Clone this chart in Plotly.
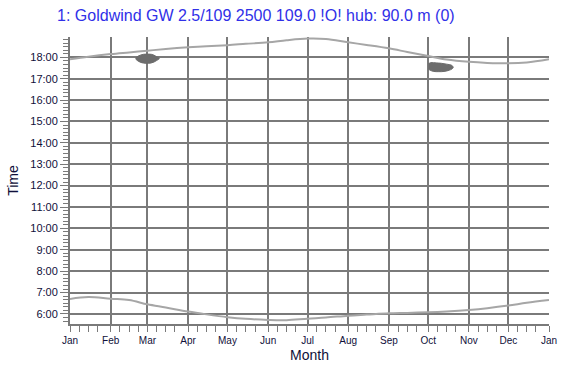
import plotly.graph_objects as go
import pandas as pd

# ---------------- data ----------------
curve_dates = ["2023-01-01", "2023-01-15", "2023-02-01", "2023-02-15", "2023-03-01", "2023-03-15",
               "2023-04-01", "2023-04-15", "2023-05-01", "2023-05-15", "2023-06-01", "2023-06-15",
               "2023-07-01", "2023-07-15", "2023-08-01", "2023-08-15", "2023-09-01", "2023-09-15",
               "2023-10-01", "2023-10-15", "2023-11-01", "2023-11-15", "2023-12-01", "2023-12-15",
               "2024-01-01"]
sunset_hours = [17.91, 18.03, 18.15, 18.23, 18.31, 18.39, 18.47, 18.52, 18.57, 18.63, 18.70, 18.80,
                18.88, 18.86, 18.70, 18.58, 18.42, 18.25, 18.06, 17.90, 17.79, 17.74, 17.72, 17.76,
                17.91]
sunrise_hours = [6.70, 6.79, 6.71, 6.65, 6.45, 6.30, 6.11, 5.98, 5.85, 5.77, 5.72, 5.71,
                 5.78, 5.83, 5.92, 5.97, 6.03, 6.05, 6.08, 6.12, 6.19, 6.27, 6.39, 6.52,
                 6.65]

flicker1_dates = ["2023-02-20", "2023-02-22", "2023-02-24", "2023-02-26", "2023-02-28",
                  "2023-03-02", "2023-03-04", "2023-03-06", "2023-03-08", "2023-03-10"]
flicker1_end = [17.97, 18.06, 18.11, 18.14, 18.15, 18.15, 18.14, 18.10, 18.03, 17.95]
flicker1_start = [17.92, 17.82, 17.76, 17.73, 17.72, 17.72, 17.74, 17.78, 17.85, 17.93]

flicker2_dates = ["2023-10-01", "2023-10-03", "2023-10-05", "2023-10-07", "2023-10-09",
                  "2023-10-11", "2023-10-13", "2023-10-15", "2023-10-17", "2023-10-19", "2023-10-20"]
flicker2_end = [17.70, 17.75, 17.75, 17.74, 17.73, 17.72, 17.70, 17.68, 17.66, 17.62, 17.55]
flicker2_start = [17.45, 17.38, 17.34, 17.33, 17.33, 17.33, 17.34, 17.36, 17.40, 17.45, 17.52]

month_starts = ["2023-01-01", "2023-02-01", "2023-03-01", "2023-04-01", "2023-05-01", "2023-06-01",
                "2023-07-01", "2023-08-01", "2023-09-01", "2023-10-01", "2023-11-01", "2023-12-01",
                "2024-01-01"]
month_labels = ["Jan", "Feb", "Mar", "Apr", "May", "Jun", "Jul", "Aug", "Sep", "Oct", "Nov", "Dec", "Jan"]
hour_ticks = [6, 7, 8, 9, 10, 11, 12, 13, 14, 15, 16, 17, 18]
hour_labels = ["6:00", "7:00", "8:00", "9:00", "10:00", "11:00", "12:00", "13:00", "14:00",
               "15:00", "16:00", "17:00", "18:00"]

title_text = "1: Goldwind GW 2.5/109 2500 109.0 !O! hub: 90.0 m (0)"

# ---------------- figure ----------------
GRID = "#7a7a7a"
CURVE = "#a6a6a6"
BLOB = "#6c6c6c"
LABEL = "#10103a"

fig = go.Figure()

for ys in (sunset_hours, sunrise_hours):
    fig.add_trace(go.Scatter(x=curve_dates, y=ys, mode="lines",
                             line=dict(color=CURVE, width=2, shape="spline"),
                             hoverinfo="skip", showlegend=False))

for d, top, bot in ((flicker1_dates, flicker1_end, flicker1_start),
                    (flicker2_dates, flicker2_end, flicker2_start)):
    fig.add_trace(go.Scatter(x=d + d[::-1], y=top + bot[::-1], mode="lines",
                             fill="toself", fillcolor=BLOB,
                             line=dict(color=BLOB, width=1, shape="spline"),
                             hoverinfo="skip", showlegend=False))

# minor x ticks: roughly weekly (8th, 15th, 22nd of each month)
minor_x = []
for m in pd.date_range("2023-01-01", "2023-12-01", freq="MS"):
    for day in (8, 15, 22):
        minor_x.append(m.replace(day=day).strftime("%Y-%m-%d"))

fig.update_layout(
    width=566, height=369,
    margin=dict(l=70, r=17, t=37, b=45),
    paper_bgcolor="white", plot_bgcolor="white",
    font=dict(family="Liberation Sans, Arial, sans-serif", color=LABEL, size=10),
    title=dict(text=title_text, x=0.452, xref="container", xanchor="center",
               y=1 - 15 / 369, yref="container", yanchor="middle",
               font=dict(size=16, color="#3030e8", family="Liberation Sans, Arial, sans-serif")),
    xaxis=dict(type="date", range=["2023-01-01", "2024-01-01"], automargin=False,
               tickvals=month_starts, ticktext=month_labels,
               showgrid=True, gridcolor=GRID, gridwidth=2,
               showline=True, linecolor=GRID, linewidth=2,
               ticks="outside", ticklen=6, tickcolor=GRID, tickwidth=1,
               minor=dict(tickvals=minor_x, ticks="outside", ticklen=6, tickcolor=GRID, showgrid=False),
               tickfont=dict(size=10, color=LABEL),
               title=dict(text="Month", font=dict(size=14, color=LABEL), standoff=5),
               zeroline=False, fixedrange=True),
    yaxis=dict(range=[5.53, 18.95], automargin=False,
               tickvals=hour_ticks, ticktext=hour_labels,
               showgrid=True, gridcolor=GRID, gridwidth=2,
               showline=True, linecolor=GRID, linewidth=2,
               ticks="outside", ticklen=8, tickcolor=GRID, tickwidth=1,
               minor=dict(dtick=1 / 6, ticks="outside", ticklen=5, tickcolor=GRID, showgrid=False),
               tickfont=dict(size=11, color=LABEL),
               title=dict(text="Time", font=dict(size=14, color=LABEL), standoff=8),
               zeroline=False, fixedrange=True),
)

fig.write_html("out.html", config={"displayModeBar": False},
               post_script="document.body.style.margin='0px';document.body.style.overflow='hidden';")
